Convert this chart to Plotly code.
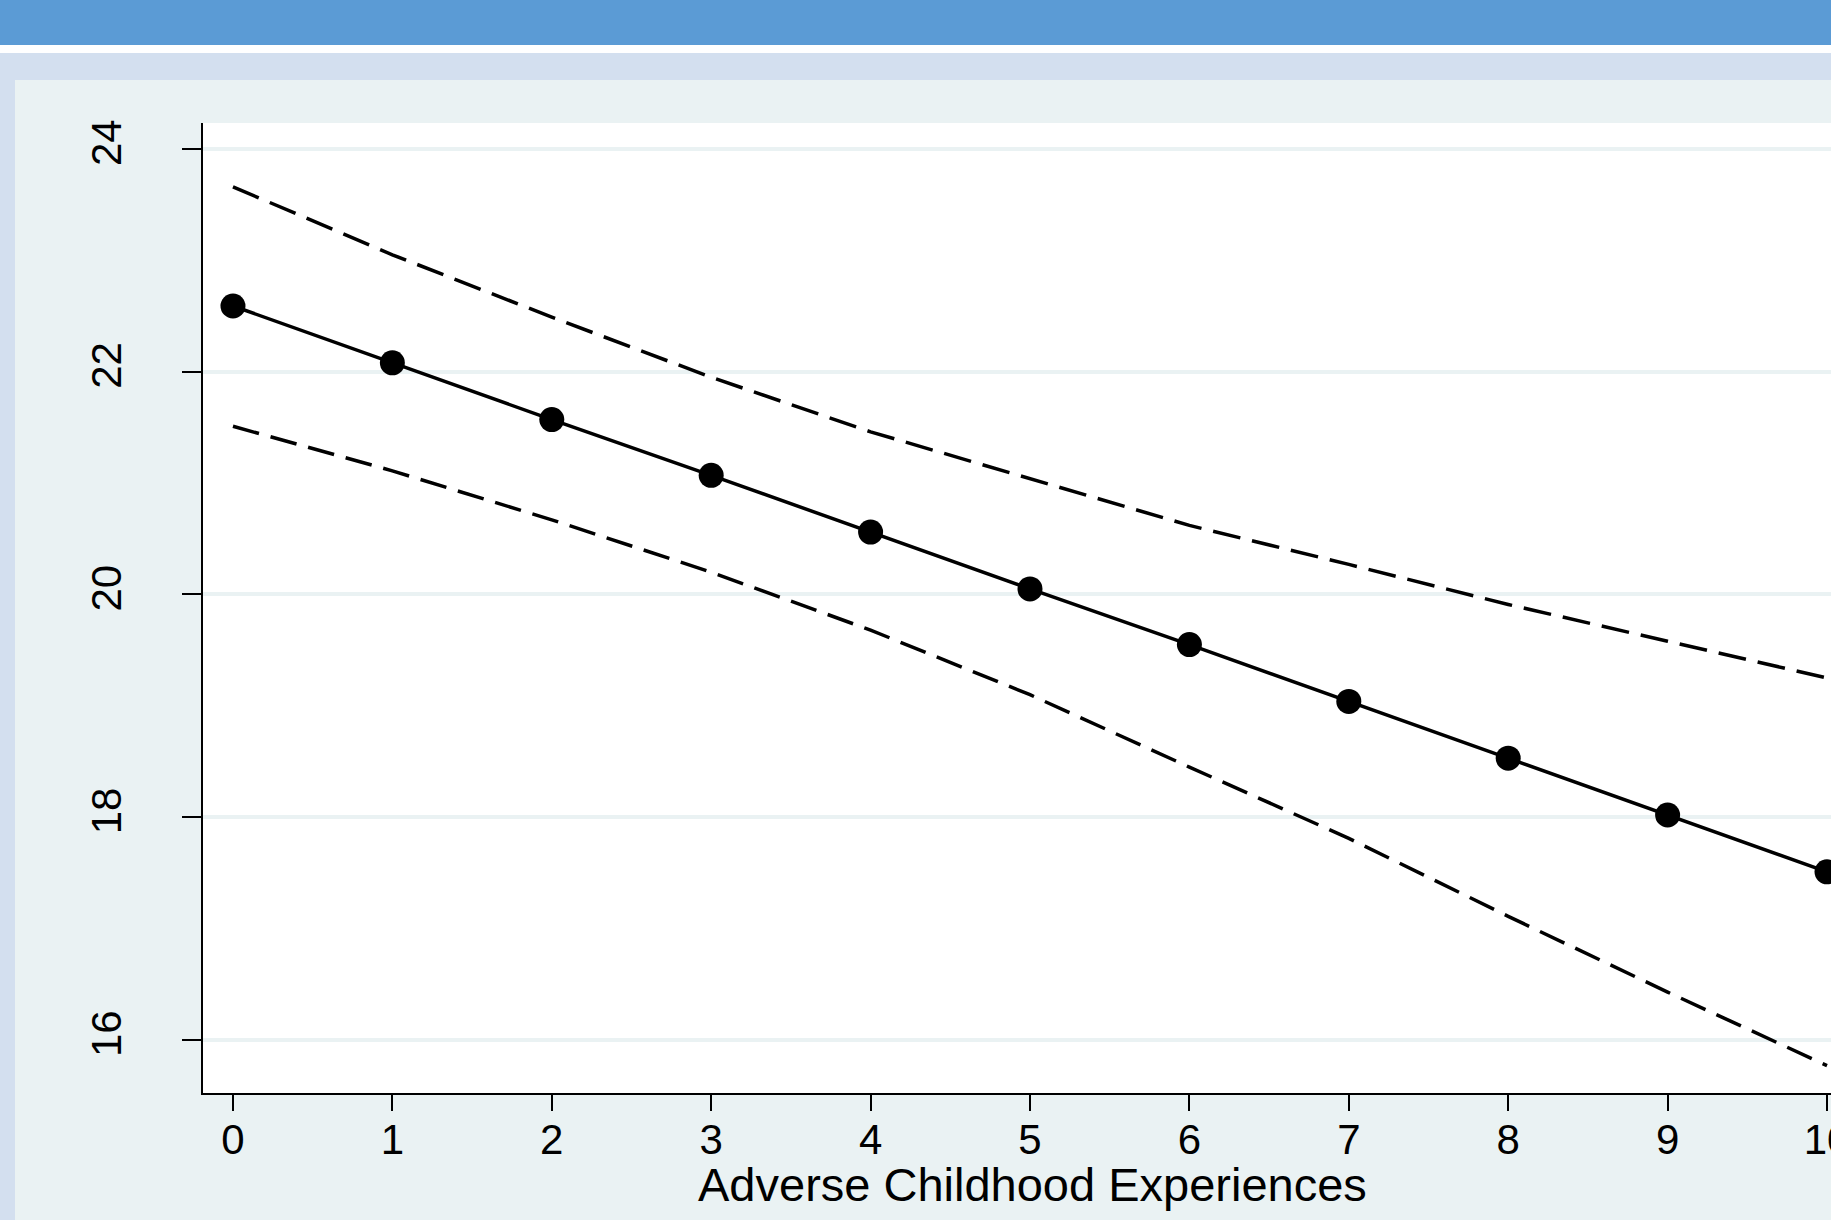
import plotly.graph_objects as go

# Data
aces = [0, 1, 2, 3, 4, 5, 6, 7, 8, 9, 10]
predicted = [22.59, 22.08, 21.57, 21.07, 20.56, 20.05, 19.55, 19.04, 18.53, 18.02, 17.51]
upper_ci = [23.66, 23.05, 22.49, 21.95, 21.46, 21.04, 20.62, 20.27, 19.91, 19.58, 19.25]
lower_ci = [21.51, 21.11, 20.67, 20.20, 19.68, 19.10, 18.45, 17.81, 17.11, 16.43, 15.77]
x_ticks = [0, 1, 2, 3, 4, 5, 6, 7, 8, 9, 10]
y_ticks = [16, 18, 20, 22, 24]
x_title = "Adverse Childhood Experiences"

FONT = "Liberation Sans, Arial, sans-serif"
PANEL = "#EAF2F3"

fig = go.Figure()
fig.add_trace(go.Scatter(x=aces, y=upper_ci, mode="lines",
                         line=dict(color="black", width=3.5, dash="28px,12px"),
                         showlegend=False, hoverinfo="skip"))
fig.add_trace(go.Scatter(x=aces, y=lower_ci, mode="lines",
                         line=dict(color="black", width=3.5, dash="27px,12px"),
                         showlegend=False, hoverinfo="skip"))
fig.add_trace(go.Scatter(x=aces, y=predicted, mode="lines+markers",
                         line=dict(color="black", width=3.5),
                         marker=dict(color="black", size=25),
                         cliponaxis=False, showlegend=False))

W, H = 1831, 1220
L, R, T, B = 203, 0, 123, 127
ph = H - T - B
pw = W - L - R


def py(p):
    return (H - B - p) / ph


def px(p):
    return (p - L) / pw


shapes = [
    dict(type="rect", xref="paper", yref="paper", x0=px(0), x1=px(W + 10), y0=py(80), y1=py(53),
         fillcolor="#D3DFEF", line_width=0, layer="above"),
    dict(type="rect", xref="paper", yref="paper", x0=px(0), x1=px(15), y0=py(H + 10), y1=py(53),
         fillcolor="#D3DFEF", line_width=0, layer="above"),
    dict(type="rect", xref="paper", yref="paper", x0=px(0), x1=px(W + 10), y0=py(53), y1=py(45),
         fillcolor="white", line_width=0, layer="above"),
    dict(type="rect", xref="paper", yref="paper", x0=px(0), x1=px(W + 10), y0=py(45), y1=py(0),
         fillcolor="#5B9BD5", line_width=0, layer="above"),
]

fig.update_layout(
    width=W, height=H,
    margin=dict(l=L, r=R, t=T, b=B, pad=0),
    paper_bgcolor=PANEL,
    plot_bgcolor="white",
    font=dict(family=FONT, color="black"),
    shapes=shapes,
    annotations=[dict(text=x_title, xref="paper", yref="paper",
                      x=px(1032), y=py(1184), xanchor="center", yanchor="middle",
                      showarrow=False, font=dict(family=FONT, size=47, color="black"))],
)
fig.update_xaxes(
    range=[-0.188, 10.025], tickvals=x_ticks, ticktext=[str(v) for v in x_ticks],
    showgrid=False, zeroline=False, automargin=False,
    showline=True, linecolor="black", linewidth=2,
    ticks="outside", ticklen=16, tickwidth=2, tickcolor="black",
    tickfont=dict(family=FONT, size=42, color="black"),
    ticklabelstandoff=-7, ticklabeloverflow="allow",
)
fig.update_yaxes(
    range=[15.524, 24.233], tickvals=y_ticks, ticktext=[str(v) for v in y_ticks],
    showgrid=True, gridcolor=PANEL, gridwidth=4, zeroline=False, automargin=False,
    showline=True, linecolor="black", linewidth=2,
    ticks="outside", ticklen=19, tickwidth=2, tickcolor="black",
    tickangle=-90,
    tickfont=dict(family=FONT, size=42, color="black"),
    ticklabelstandoff=44,
)

fig.write_html("out.html", config={"displayModeBar": False},
               post_script="document.body.style.margin='0';document.body.style.overflow='hidden';")
